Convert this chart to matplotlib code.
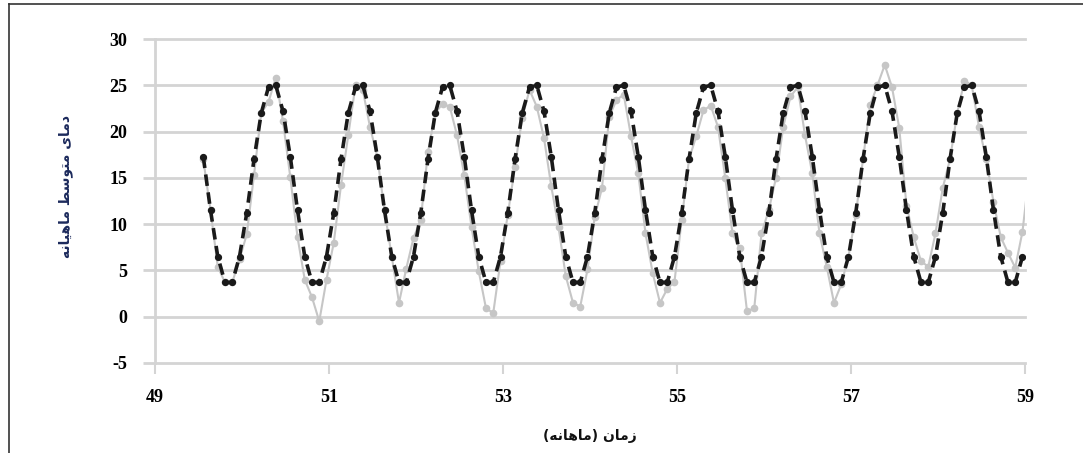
import matplotlib
matplotlib.use('Agg')
import matplotlib.pyplot as plt
from matplotlib.lines import Line2D
import numpy as np

plt.rcParams.update({'font.family': 'Liberation Serif', 'font.weight': 'bold'})

# monthly time axis (years), first sample mid-year 49
t_start = 49.555
n_model = 114
n_obs = 115

# simulated monthly mean temperature (dashed black)
model = [
    17.3, 11.5, 6.5, 3.7, 3.7, 6.5, 11.2, 17.0, 22.0, 24.8, 25.0, 22.2,
    17.3, 11.5, 6.5, 3.7, 3.7, 6.5, 11.2, 17.0, 22.0, 24.8, 25.0, 22.2,
    17.3, 11.5, 6.5, 3.7, 3.7, 6.5, 11.2, 17.0, 22.0, 24.8, 25.0, 22.2,
    17.3, 11.5, 6.5, 3.7, 3.7, 6.5, 11.2, 17.0, 22.0, 24.8, 25.0, 22.2,
    17.3, 11.5, 6.5, 3.7, 3.7, 6.5, 11.2, 17.0, 22.0, 24.8, 25.0, 22.2,
    17.3, 11.5, 6.5, 3.7, 3.7, 6.5, 11.2, 17.0, 22.0, 24.8, 25.0, 22.2,
    17.3, 11.5, 6.5, 3.7, 3.7, 6.5, 11.2, 17.0, 22.0, 24.8, 25.0, 22.2,
    17.3, 11.5, 6.5, 3.7, 3.7, 6.5, 11.2, 17.0, 22.0, 24.8, 25.0, 22.2,
    17.3, 11.5, 6.5, 3.7, 3.7, 6.5, 11.2, 17.0, 22.0, 24.8, 25.0, 22.2,
    17.3, 11.5, 6.5, 3.7, 3.7, 6.5,
]

# observed monthly mean temperature (light gray)
observed = [
    17.0, 11.5, 5.4, 3.7, 3.7, 6.2, 8.9, 15.3, 22.0, 23.2, 25.8, 21.1,
    15.1, 8.6, 4.0, 2.1, -0.5, 4.0, 8.0, 14.2, 19.6, 25.0, 24.5, 20.5,
    17.3, 11.5, 6.5, 1.5, 5.2, 8.5, 10.5, 17.8, 22.0, 23.0, 22.7, 19.6,
    15.3, 9.7, 4.9, 0.9, 0.4, 6.0, 11.0, 16.2, 21.5, 24.5, 22.7, 19.3,
    14.1, 9.7, 4.4, 1.5, 1.1, 5.1, 10.8, 13.9, 21.6, 23.4, 24.0, 19.5,
    15.5, 9.0, 4.7, 1.5, 3.0, 3.8, 10.5, 17.0, 19.5, 22.3, 22.8, 20.5,
    15.0, 9.0, 7.4, 0.6, 0.9, 9.0, 11.5, 15.0, 20.5, 23.8, 24.8, 19.6,
    15.5, 9.0, 5.4, 1.5, 3.5, 6.5, 11.0, 17.0, 22.9, 25.0, 27.2, 24.8,
    20.4, 12.0, 8.6, 6.0, 5.4, 9.0, 13.9, 17.0, 22.0, 25.5, 25.0, 20.5,
    17.0, 12.4, 8.6, 6.9, 5.3, 9.2, 16.0,
]

x_model = t_start + np.arange(n_model) / 12
x_obs = t_start + np.arange(n_obs) / 12

x_ticks = [49, 51, 53, 55, 57, 59]
y_ticks = [-5, 0, 5, 10, 15, 20, 25, 30]

x_label = 'زمان (ماهانه)'
y_label = 'دمای متوسط ماهیانه'

# minimal Persian shaping: presentation forms + visual (reversed) order
FORMS = {  # isolated, final, initial, medial
    'ا': ('\uFE8D', '\uFE8E', None, None),
    'د': ('\uFEA9', '\uFEAA', None, None),
    'ز': ('\uFEAF', '\uFEB0', None, None),
    'و': ('\uFEED', '\uFEEE', None, None),
    'م': ('\uFEE1', '\uFEE2', '\uFEE3', '\uFEE4'),
    'ت': ('\uFE95', '\uFE96', '\uFE97', '\uFE98'),
    'س': ('\uFEB1', '\uFEB2', '\uFEB3', '\uFEB4'),
    'ط': ('\uFEC1', '\uFEC2', '\uFEC3', '\uFEC4'),
    'ه': ('\uFEE9', '\uFEEA', '\uFEEB', '\uFEEC'),
    'ن': ('\uFEE5', '\uFEE6', '\uFEE7', '\uFEE8'),
    'ی': ('\uFBFC', '\uFBFD', '\uFBFE', '\uFBFF'),
}


def shape_fa(text):
    out = []
    for i, ch in enumerate(text):
        if ch not in FORMS:
            out.append({'(': ')', ')': '('}.get(ch, ch))
            continue
        prev = text[i - 1] if i > 0 else ''
        nxt = text[i + 1] if i + 1 < len(text) else ''
        iso, fin, ini, med = FORMS[ch]
        joins_prev = prev in FORMS and FORMS[prev][2] is not None
        joins_next = ini is not None and nxt in FORMS
        if joins_prev and joins_next:
            out.append(med)
        elif joins_prev:
            out.append(fin)
        elif joins_next:
            out.append(ini)
        else:
            out.append(iso)
    return ''.join(reversed(out))


fig = plt.figure(figsize=(10.83, 4.53), dpi=100)
ax = fig.add_axes([0.1431, 0.1987, 0.8033, 0.7152])

grid_c = '#d4d4d4'
for yv in y_ticks:
    ax.axhline(yv, color=grid_c, lw=2, zorder=0, clip_on=False)

ax.plot(x_obs, observed, color='#c6c6c6', lw=1.5, marker='o', ms=4.5,
        mfc='#c6c6c6', mec='#c6c6c6', zorder=2)
ax.plot(x_model, model, color='#1a1a1a', lw=2.6, ls=(0, (3.2, 1.8)),
        marker='o', ms=4.2, mfc='#1a1a1a', mec='#1a1a1a', zorder=3)

ax.set_xlim(49, 59)
ax.set_ylim(-5, 30)
ax.set_xticks(x_ticks)
ax.set_yticks(y_ticks)
ax.set_xticklabels([str(v) for v in x_ticks], fontsize=13, fontweight='bold')
ax.set_yticklabels([str(v) for v in y_ticks], fontsize=13, fontweight='bold')

for s in ['top', 'right', 'bottom']:
    ax.spines[s].set_visible(False)
ax.spines['left'].set_color(grid_c)
ax.spines['left'].set_linewidth(2)

ax.tick_params(axis='x', length=8, width=1.5, color=grid_c, pad=11)
ax.tick_params(axis='y', length=9, width=2, color=grid_c, pad=11)

ax.text(0.5, -0.225, shape_fa(x_label), transform=ax.transAxes,
        ha='center', va='center', fontsize=10, fontweight='bold',
        family='DejaVu Sans', color='#111111')
ax.text(-0.103, 0.545, shape_fa(y_label), transform=ax.transAxes,
        ha='center', va='center', rotation=90, fontsize=10,
        fontweight='bold', family='DejaVu Sans', color='#1c2a5c')

# outer frame (left and top edges)
for xs, ys in [([0.008, 0.008], [0.0, 0.992]),
               ([0.008, 1.0], [0.992, 0.992])]:
    fig.add_artist(Line2D(xs, ys, color='#333333', lw=1.2,
                          transform=fig.transFigure))

fig.savefig('out.png', dpi=100)
